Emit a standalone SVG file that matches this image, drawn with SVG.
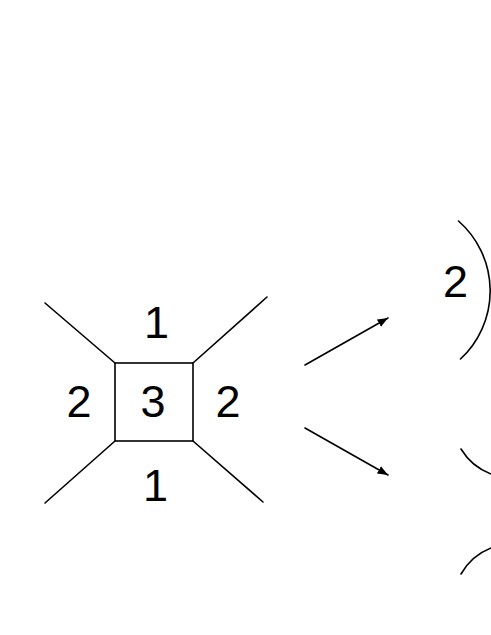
<svg xmlns="http://www.w3.org/2000/svg" width="491" height="635" viewBox="0 0 491 635">
<style>
.ln{stroke:#000;stroke-width:1.6;fill:none;stroke-linecap:round}
.t{font-family:"Liberation Sans",Arial,sans-serif;font-size:45px;fill:#000;text-anchor:middle}
</style>
<defs>
<marker id="ah" viewBox="0 0 10 10" refX="10" refY="5" markerWidth="6.5" markerHeight="6.5" orient="auto" markerUnits="strokeWidth">
<path d="M0,1 L10,5 L0,9 z" fill="#000"/>
</marker>
</defs>
<rect width="491" height="635" fill="#fff"/>
<g id="diagram-left">
<rect class="ln" x="115" y="363" width="78" height="78"/>
<line class="ln" x1="45" y1="303" x2="115" y2="363"/>
<line class="ln" x1="267" y1="297" x2="193" y2="363"/>
<line class="ln" x1="45" y1="503" x2="115" y2="441"/>
<line class="ln" x1="263" y1="502" x2="193" y2="441"/>
<text class="t" x="156.5" y="338">1</text>
<text class="t" x="79" y="417">2</text>
<text class="t" x="153" y="417">3</text>
<text class="t" x="228" y="417">2</text>
<text class="t" x="155.5" y="501">1</text>
</g>
<g id="connectors">
<line class="ln" x1="305" y1="365" x2="388" y2="318" marker-end="url(#ah)"/>
<line class="ln" x1="305" y1="428" x2="388" y2="475" marker-end="url(#ah)"/>
</g>
<g id="diagram-right">
<path class="ln" d="M458.5,221 A93,93 0 0 1 460.5,359"/>
<text class="t" x="455.5" y="297">2</text>
<path class="ln" d="M461,449 A60,60 0 0 0 491,474"/>
<path class="ln" d="M461,574 A60,60 0 0 1 491,548"/>
</g>
</svg>
